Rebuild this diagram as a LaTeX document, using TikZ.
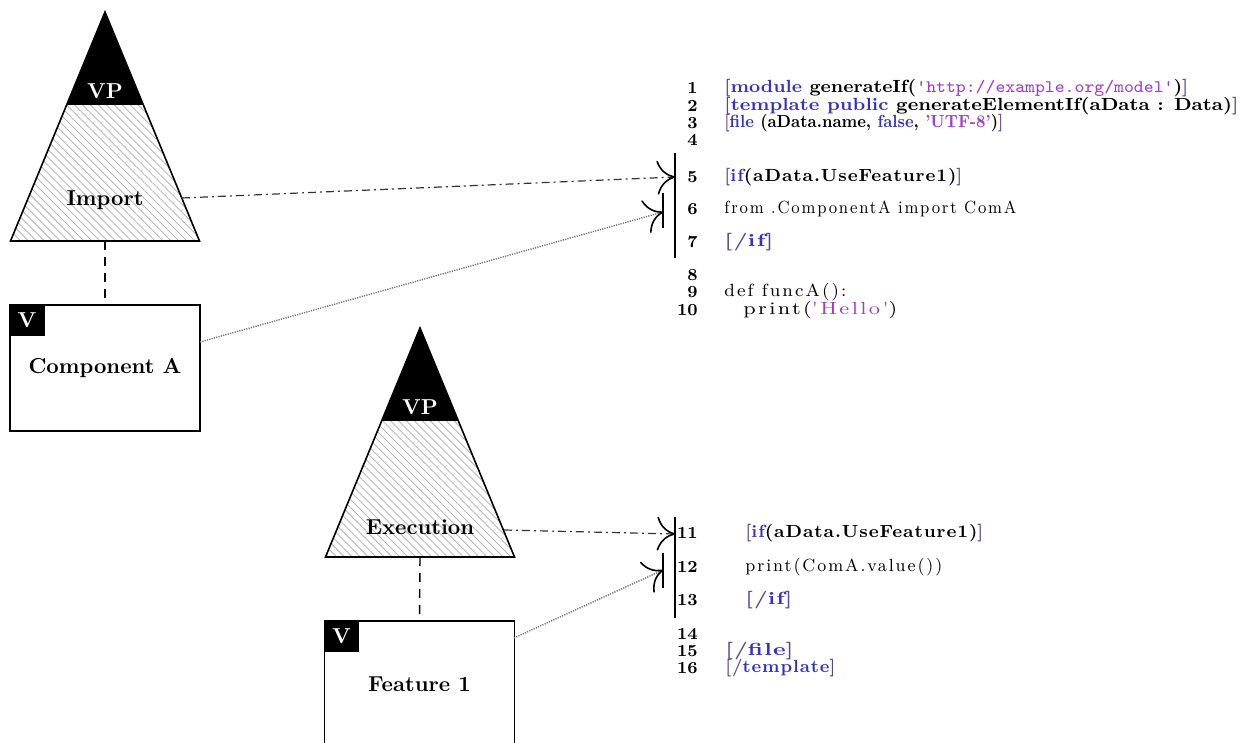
\documentclass[tikz,border=0pt]{standalone}
\usepackage{fontspec}
\usepackage{graphicx}
\usetikzlibrary{arrows.meta,patterns.meta,calc}
\newfontfamily\spaced[LetterSpace=5]{Latin Modern Roman}
\newfontfamily\spacedwide[LetterSpace=11]{Latin Modern Roman}
\definecolor{kwblue}{RGB}{50,50,200}
\definecolor{strpurple}{RGB}{160,60,210}
\definecolor{brk}{RGB}{90,70,140}
\newcommand\kw[1]{\textcolor{kwblue}{#1}}
\newcommand\st[1]{\textcolor{strpurple}{#1}}
\newcommand\bk[1]{\textcolor{brk}{#1}}
% set a code line to a given width, keeping its height
\newcommand\fitw[2]{\resizebox{#1}{\height}{#2}}
% variation point: hatched triangle with a black "VP" tip
\newcommand\vpTriangle[4]{%
  \coordinate (#1-apex) at (#2,#3);
  \coordinate (#1-bl) at ($(#2,#3)+(-94.5,229)$);
  \coordinate (#1-br) at ($(#2,#3)+(94.5,229)$);
  \coordinate (#1-base) at ($(#1-bl)!0.5!(#1-br)$);
  \fill[hatch] (#1-apex) -- (#1-br) -- (#1-bl) -- cycle;
  \fill[black] (#1-apex) -- ($(#1-apex)!0.406!(#1-br)$) -- ($(#1-apex)!0.406!(#1-bl)$) -- cycle;
  \draw[outline] (#1-apex) -- (#1-br) -- (#1-bl) -- cycle;
  \node[vplabel] (#1-vp) at ($(#2,#3)+(0,79)$) {VP};
  \node[label] (#1-name) at ($(#2,#3)+(0,#4)$) {\csname #1text\endcsname};
}
\begin{document}
\begin{tikzpicture}[x=0.5pt,y=-0.5pt,
  label/.style={font=\fontsize{10.8}{13}\selectfont\bfseries, inner sep=0},
  vplabel/.style={label, text=white},
  hatch/.style={pattern={Lines[angle=-45,distance=2.8pt,line width=0.45pt]}, pattern color=gray!55},
  outline/.style={draw, line width=0.8pt, line join=miter},
  vbox/.style={draw, line width=0.8pt, minimum width=95pt, minimum height=63pt, inner sep=0, fill=white},
  vtag/.style={fill=black, text=white, font=\fontsize{10.8}{13}\selectfont\bfseries, minimum width=17.5pt, minimum height=15.5pt, anchor=north west, inner sep=0},
  dep/.style={line width=0.7pt, dash pattern=on 4.5pt off 3.5pt},
  tip/.style={-{Computer Modern Rightarrow[length=9pt,width=17pt,line width=0.8pt,color=black]}},
  trace/.style={line width=0.6pt, black!80, dash pattern=on 4pt off 2pt on 1pt off 2pt, tip},
  link/.style={line width=0.7pt, black!55, dash pattern=on 0.6pt off 0.6pt, tip},
  bar/.style={line width=1pt},
  lnum/.style={anchor=east, inner sep=0, font=\fontsize{8.4}{10}\selectfont\bfseries},
  code/.style={anchor=west, inner sep=0, font=\fontsize{8.8}{10}\selectfont}
]
\useasboundingbox (0,0) rectangle (1254,743);
\clip (0,0) rectangle (1254,743);

% feature model side
\def\imptext{Import}
\def\exetext{Execution}
\vpTriangle{imp}{105}{12}{188}
\vpTriangle{exe}{420}{328}{199}

\node[vbox] (compA) at (105,368) {};
\node[label] (compAname) at (105,368) {Component A};
\node[vtag] (compAv) at (compA.north west) {V};

\node[vbox] (feat) at (419.5,684) {};
\node[label] (featname) at (419.5,684) {Feature 1};
\node[vtag] (featv) at (feat.north west) {V};

\draw[dep] (imp-base) -- (compA.north);
\draw[dep] (exe-base) -- (feat.north);

% template code
\node[lnum] (n1) at (698,88) {1};
\node[lnum] (n2) at (698,106) {2};
\node[lnum] (n3) at (698,123) {3};
\node[lnum] (n4) at (698,140) {4};
\node[lnum] (n5) at (698,177) {5};
\node[lnum] (n6) at (698,209) {6};
\node[lnum] (n7) at (698,242) {7};
\node[lnum] (n8) at (698,275) {8};
\node[lnum] (n9) at (698,292) {9};
\node[lnum] (n10) at (698,310) {10};
\node[lnum] (n11) at (698,533) {11};
\node[lnum] (n12) at (698,567) {12};
\node[lnum] (n13) at (698,600) {13};
\node[lnum] (n14) at (698,634) {14};
\node[lnum] (n15) at (698,651) {15};
\node[lnum] (n16) at (698,668) {16};

\node[code] (l1) at (724,88) {\fitw{232pt}{\bfseries\bk{[}\kw{module} generateIf(\st{\ttfamily\mdseries 'http://example.org/model'})\bk{]}}};
\node[code] (l2) at (724,106) {\fitw{257pt}{\bfseries\bk{[}\kw{template public} generateElementIf(aData : Data)\bk{]}}};
\node[code] (l3) at (724,123) {\fitw{139.5pt}{\bfseries\bk{[}\kw{file} (aData.name, \kw{false}, \st{'UTF-8'})\bk{]}}};
\node[code] (l5) at (724,177) {\fitw{119pt}{\spaced\bfseries\bk{[}\kw{if}(aData.UseFeature1)\bk{]}}};
\node[code] (l6) at (724,209) {\fitw{146pt}{\spacedwide from .ComponentA import ComA}};
\node[code] (l7) at (724,242) {\fitw{24.5pt}{\spaced\bfseries\bk{[/}\kw{if}\bk{]}}};
\node[code] (l9) at (724,292) {\fitw{61pt}{\spacedwide def funcA():}};
\node[code] (l10) at (743,310) {\fitw{77pt}{\spacedwide print(\st{'Hello'})}};
\node[code] (l11) at (745,533) {\fitw{119pt}{\spaced\bfseries\bk{[}\kw{if}(aData.UseFeature1)\bk{]}}};
\node[code] (l12) at (745,567) {\fitw{98.5pt}{\spacedwide print(ComA.value())}};
\node[code] (l13) at (745,600) {\fitw{23.5pt}{\spaced\bfseries\bk{[/}\kw{if}\bk{]}}};
\node[code] (l15) at (725,651) {\fitw{34pt}{\spaced\bfseries\bk{[/}\kw{file}\bk{]}}};
\node[code] (l16) at (725,668) {\fitw{55pt}{\spaced\bfseries\bk{[/}\kw{template}\bk{]}}};

% brackets marking the conditional blocks
\coordinate (b1top) at (675,153);
\coordinate (b1bot) at (675,258);
\coordinate (s1top) at (663,193);
\coordinate (s1bot) at (663,228);
\coordinate (b2top) at (675,517);
\coordinate (b2bot) at (675,618);
\coordinate (s2top) at (663,553);
\coordinate (s2bot) at (663,588);
\draw[bar] (b1top) -- (b1bot);
\draw[bar] (s1top) -- (s1bot);
\draw[bar] (b2top) -- (b2bot);
\draw[bar] (s2top) -- (s2bot);

% trace links
\coordinate (impR) at (182,198);
\coordinate (t1) at (675,177);
\coordinate (compR) at (200,342);
\coordinate (t2) at (663,212);
\coordinate (exeR) at (504,530);
\coordinate (t3) at (675,534);
\coordinate (featR) at (514,638);
\coordinate (t4) at (663,570);
\draw[trace] (impR) -- (t1);
\draw[link] (compR) -- (t2);
\draw[trace] (exeR) -- (t3);
\draw[link] (featR) -- (t4);
\end{tikzpicture}
\end{document}
